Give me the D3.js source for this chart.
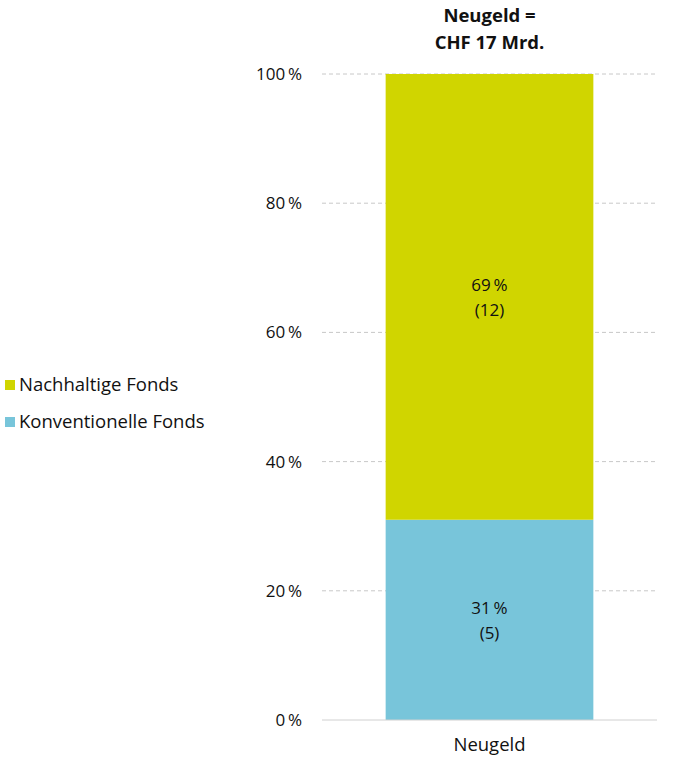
<!DOCTYPE html>
<html>
<head>
<meta charset="utf-8">
<script src="https://cdn.jsdelivr.net/npm/d3@7"></script>
<style>
  body { margin: 0; background: #fff; }
  text { font-family: "Open Sans", sans-serif; fill: #111; }
</style>
</head>
<body>
<svg id="chart" width="675" height="767"></svg>
<script>
var categories = ["Neugeld"];
var seriesNames = ["Konventionelle Fonds", "Nachhaltige Fonds"];
var seriesColors = ["#78c5da", "#d0d500"];
var sharePct = [31, 69];
var amountBn = [5, 12];
var yTicks = [0, 20, 40, 60, 80, 100];
var titleLines = ["Neugeld =", "CHF 17 Mrd."];

var svg = d3.select("#chart");
var margin = { left: 322, right: 18, top: 74, bottom: 47 };
var width = 675 - margin.left - margin.right;
var height = 767 - margin.top - margin.bottom;

var g = svg.append("g").attr("transform", "translate(" + margin.left + "," + margin.top + ")");

var x = d3.scaleBand().domain(categories).range([0, width]).paddingInner(0.38).paddingOuter(0.19);
var y = d3.scaleLinear().domain([0, 100]).range([height, 0]);

// grid
g.selectAll(".grid").data(yTicks.filter(d => d > 0)).enter().append("line")
    .attr("x1", 0).attr("x2", width)
    .attr("y1", d => y(d)).attr("y2", d => y(d))
    .attr("stroke", "#c8c8c8").attr("stroke-dasharray", "4,3");

// stacked bars
var stacked = [];
var base = 0;
sharePct.forEach(function(v, i) {
    stacked.push({ y0: base, y1: base + v, i: i });
    base += v;
});

g.selectAll(".bar").data(stacked).enter().append("rect")
    .attr("x", x("Neugeld"))
    .attr("width", x.bandwidth())
    .attr("y", d => y(d.y1))
    .attr("height", d => y(d.y0) - y(d.y1))
    .attr("fill", d => seriesColors[d.i]);

// baseline
g.append("line").attr("x1", 0).attr("x2", width)
    .attr("y1", y(0)).attr("y2", y(0)).attr("stroke", "#d0d0d0");

// bar labels
stacked.forEach(function(d) {
    var cy = (y(d.y0) + y(d.y1)) / 2;
    var cx = x("Neugeld") + x.bandwidth() / 2;
    var t = g.append("text").attr("text-anchor", "middle").attr("font-size", 17);
    t.append("tspan").attr("x", cx).attr("y", cy - 6).text(sharePct[d.i] + "\u2009%");
    t.append("tspan").attr("x", cx).attr("y", cy + 19).text("(" + amountBn[d.i] + ")");
});

// y axis labels
g.selectAll(".ytick").data(yTicks).enter().append("text")
    .attr("x", -20).attr("y", d => y(d)).attr("dy", "0.35em")
    .attr("text-anchor", "end").attr("font-size", 17)
    .text(d => d + "\u2009%");

// category label
g.append("text").attr("x", x("Neugeld") + x.bandwidth() / 2).attr("y", height + 31)
    .attr("text-anchor", "middle").attr("font-size", 18.5).text(categories[0]);

// title
titleLines.forEach(function(l, i) {
    svg.append("text").attr("x", x("Neugeld") + x.bandwidth() / 2 + margin.left)
        .attr("y", 22 + i * 27).attr("text-anchor", "middle")
        .attr("font-size", 18.5).attr("font-weight", "bold").text(l);
});

// legend
var legendOrder = [1, 0];
legendOrder.forEach(function(idx, k) {
    var ly = 385 + k * 37;
    svg.append("rect").attr("x", 5).attr("y", ly - 5).attr("width", 10).attr("height", 10)
        .attr("fill", seriesColors[idx]);
    svg.append("text").attr("x", 19).attr("y", ly).attr("dy", "0.35em")
        .attr("font-size", 18.5).text(seriesNames[idx]);
});
</script>
</body>
</html>
